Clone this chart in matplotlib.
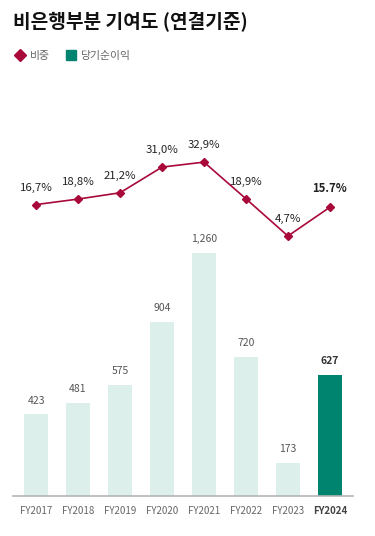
import numpy as np
import matplotlib
matplotlib.use("Agg")
import matplotlib.pyplot as plt
from matplotlib.lines import Line2D

plt.rcParams['font.family'] = ['Noto Sans CJK KR', 'DejaVu Sans']

years = ['FY2017', 'FY2018', 'FY2019', 'FY2020', 'FY2021', 'FY2022', 'FY2023', 'FY2024']
profit = [423, 481, 575, 904, 1260, 720, 173, 627]
share = [16.7, 18.8, 21.2, 31.0, 32.9, 18.9, 4.7, 15.7]
share_labels = ['16,7%', '18,8%', '21,2%', '31,0%', '32,9%', '18,9%', '4,7%', '15.7%']
profit_labels = ['423', '481', '575', '904', '1,260', '720', '173', '627']

bar_light = '#dcefeb'
bar_dark = '#00836f'
line_col = '#a8093a'

W, H = 375, 536
fig = plt.figure(figsize=(W / 100, H / 100), dpi=100)
ax = fig.add_axes([13 / W, (H - 496) / H, 340 / W, 396 / H])

x = np.arange(len(years))
colors = [bar_light] * (len(years) - 1) + [bar_dark]
ax.bar(x, profit, width=0.58, color=colors, zorder=2)
ax.set_xlim(-0.55, 7.55)
ax.set_ylim(0, 2052)
for s in ['top', 'right', 'left']:
    ax.spines[s].set_visible(False)
ax.spines['bottom'].set_color('#b5b5b5')
ax.spines['bottom'].set_linewidth(1.2)
ax.set_yticks([])
ax.set_xticks(x)
ax.set_xticklabels(years, fontsize=7, color='#666666')
ax.tick_params(axis='x', length=0, pad=7)
ax.get_xticklabels()[-1].set_fontweight('bold')
ax.get_xticklabels()[-1].set_color('#444444')

for i, (v, lab) in enumerate(zip(profit, profit_labels)):
    last = i == len(profit) - 1
    ax.text(i, v + 45, lab, ha='center', va='bottom', fontsize=7.5,
            color='#333333' if last else '#555555',
            fontweight='bold' if last else 'normal')

ax2 = ax.twinx()
ax2.set_ylim(-94.5, 56.6)
ax2.set_yticks([])
for s in ax2.spines.values():
    s.set_visible(False)
ax2.plot(x, share, color=line_col, lw=1.2, marker='D', ms=4.2, zorder=3)
for i, (v, lab) in enumerate(zip(share, share_labels)):
    last = i == len(share) - 1
    ax2.text(i, v + 4.5, lab, ha='center', va='bottom', fontsize=8.2,
             color='#222222', fontweight='bold' if last else 'normal')

fig.text(13 / W, 1 - 22 / H, '비은행부분 기여도 (연결기준)', fontsize=13.8,
         fontweight='bold', va='center', ha='left', color='#111111')

handles = [
    Line2D([], [], marker='D', color=line_col, ls='none', ms=6),
    Line2D([], [], marker='s', color=bar_dark, ls='none', ms=7),
]
fig.legend(handles, ['비중', '당기순이익'], loc='center left',
           bbox_to_anchor=(4 / W, 1 - 56 / H), ncol=2, frameon=False,
           fontsize=7.8, labelcolor='#666666', handletextpad=0.3,
           columnspacing=1.3, handlelength=1.2)

fig.savefig('out.png', dpi=100)
